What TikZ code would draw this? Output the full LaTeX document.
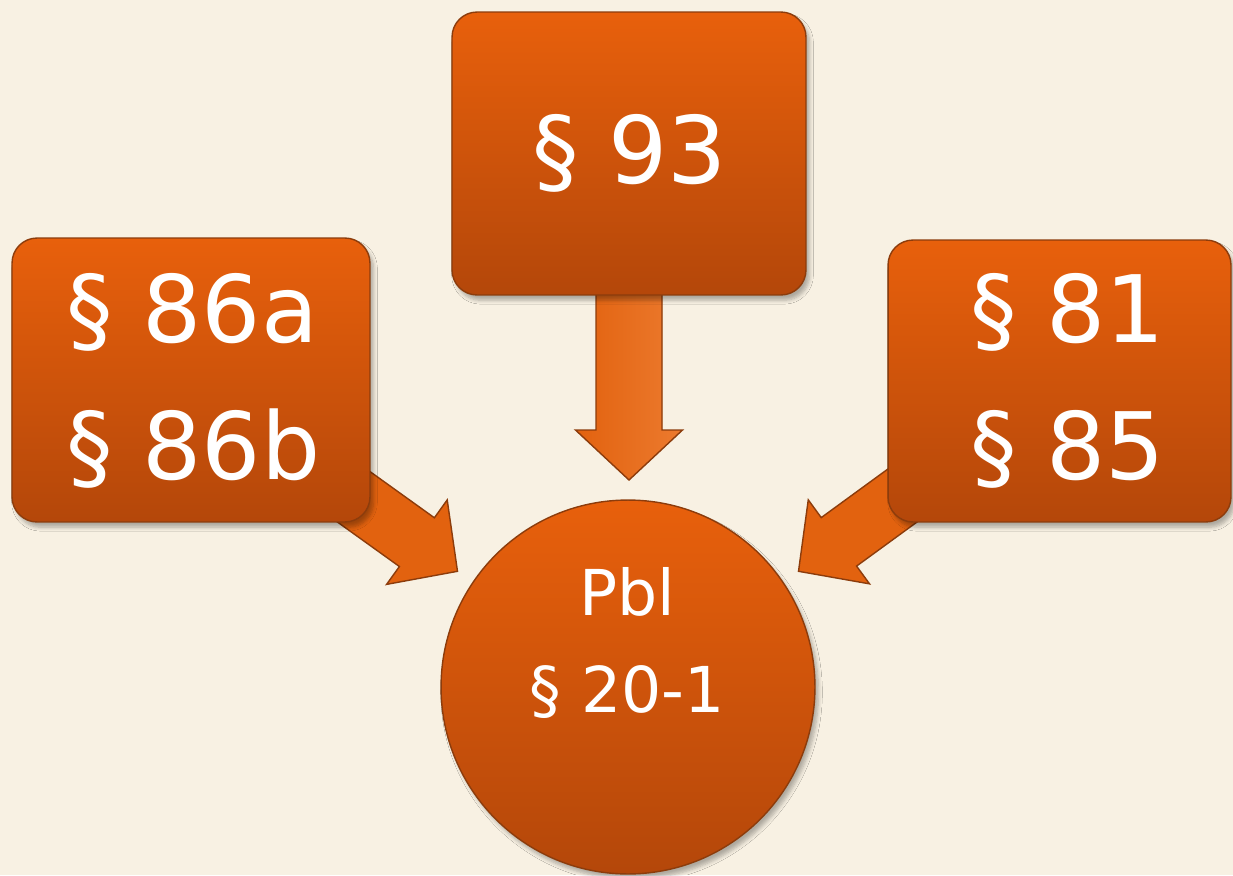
\documentclass[tikz,border=0pt]{standalone}
\usepackage{fontspec}
\setmainfont{DejaVu Sans}
\usetikzlibrary{calc,backgrounds,shadows.blur}
\definecolor{bg}{HTML}{F8F1E3}
\definecolor{otop}{HTML}{E8600C}
\definecolor{obot}{HTML}{B4470A}
\definecolor{oedge}{HTML}{8C3C0C}
\definecolor{oarrow}{HTML}{E2620F}
\definecolor{oarrowl}{HTML}{EC7A2E}
\tikzset{
  box/.style={rounded corners=0.5cm, draw=oedge, line width=0.8pt, top color=otop, bottom color=obot,
    blur shadow={shadow xshift=2pt, shadow yshift=-3pt, shadow blur steps=6, shadow opacity=30}},
  boxtext/.style={text=white, font=\fontsize{53}{77.6}\selectfont, align=left, inner sep=0pt},
  hub/.style={circle, draw=oedge, line width=0.8pt, top color=otop, bottom color=obot,
    minimum size=7.48cm, inner sep=0pt,
    blur shadow={shadow xshift=2pt, shadow yshift=-3pt, shadow blur steps=6, shadow opacity=30}},
  hubtext/.style={text=white, font=\fontsize{36}{55}\selectfont, align=center, inner sep=0pt},
  arr/.style={draw=oedge, line width=0.8pt, fill=oarrow, line join=miter},
}
\newcommand{\bigarrow}[7]{%
  \coordinate (#6h) at ($(#2)!#5!(#1)$);
  \draw[arr,#7] ($(#1)!#3!90:(#2)$) -- ($(#6h)!#3!90:(#2)$) -- ($(#6h)!#4!90:(#2)$) -- (#2)
    -- ($(#6h)!#4!-90:(#2)$) -- ($(#6h)!#3!-90:(#2)$) -- ($(#1)!#3!-90:(#2)$) -- cycle;
}
\begin{document}
\begin{tikzpicture}[x=0.02cm,y=-0.02cm]
\useasboundingbox (0,0) rectangle (1233,875);
\node[box, minimum width=7.08cm, minimum height=5.66cm] (top) at (629,153.5) {};
\node[box, minimum width=7.16cm, minimum height=5.68cm] (left) at (191,380) {};
\node[box, minimum width=6.86cm, minimum height=5.64cm] (right) at (1059.5,381) {};
\node[hub] (pbl) at (628,687) {};
\node[boxtext] (t93) at (630,153) {§ 93};
\node[boxtext] (t86) at (193.5,381) {§ 86a\\§ 86b};
\node[boxtext] (t81) at (1067.5,381) {§ 81\\§ 85};
\node[hubtext] (tpbl) at (627,643) {Pbl\\§ 20-1};
\coordinate (ttop) at (629,480);
\coordinate (tleft) at (457.5,571.3);
\coordinate (tright) at (798.5,571.3);
\begin{scope}[on background layer]
  \fill[bg] (0,0) rectangle (1233,875);
  \bigarrow{top.center}{ttop}{0.66cm}{1.07cm}{1.0cm}{a}{left color=oarrow, middle color=oarrow, right color=oarrowl}
  \bigarrow{left.center}{tleft}{0.6cm}{1.04cm}{1.0cm}{b}{}
  \bigarrow{right.center}{tright}{0.6cm}{1.04cm}{1.0cm}{c}{}
\end{scope}
\end{tikzpicture}
\end{document}
